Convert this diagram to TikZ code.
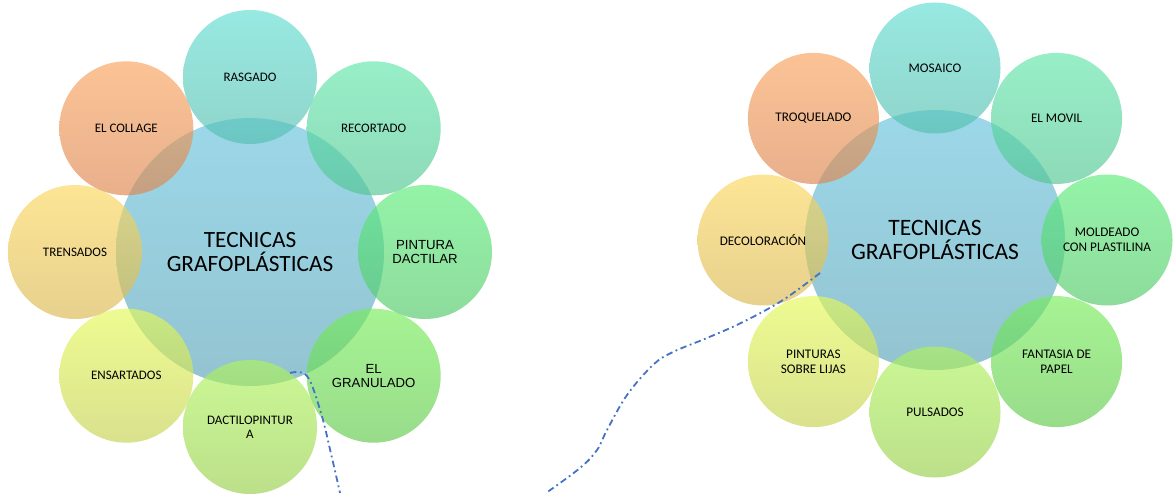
\documentclass[tikz,border=0pt]{standalone}
\usepackage{fontspec}
\setmainfont{Carlito}
\newfontfamily\arialfont{Liberation Sans}
\definecolor{hubT}{RGB}{103,195,221}
\definecolor{hubB}{RGB}{89,163,183}
\definecolor{s1T}{RGB}{95,221,209}\definecolor{s1B}{RGB}{84,190,175}
\definecolor{s2T}{RGB}{95,230,169}\definecolor{s2B}{RGB}{81,197,146}
\definecolor{s3T}{RGB}{90,237,121}\definecolor{s3B}{RGB}{81,200,103}
\definecolor{s4T}{RGB}{118,237,89}\definecolor{s4B}{RGB}{97,201,75}
\definecolor{s5T}{RGB}{175,244,92}\definecolor{s5B}{RGB}{152,207,75}
\definecolor{s6T}{RGB}{229,249,86}\definecolor{s6B}{RGB}{197,209,80}
\definecolor{s7T}{RGB}{252,215,92}\definecolor{s7B}{RGB}{217,184,80}
\definecolor{s8T}{RGB}{249,163,92}\definecolor{s8B}{RGB}{220,133,78}
\definecolor{linkblue}{RGB}{68,114,196}
\begin{document}
\begin{tikzpicture}[x=1pt,y=1pt,
  bubble/.style={circle, inner sep=0pt, fill opacity=0.65, text opacity=1, align=center, text=black},
  hubL/.style={bubble, minimum size=268pt, top color=hubT, bottom color=hubB, font=\fontsize{23.3}{24}\selectfont},
  hubR/.style={bubble, minimum size=260pt, top color=hubT, bottom color=hubB, font=\fontsize{23.5}{24}\selectfont},
  satL/.style 2 args={bubble, minimum size=134pt, top color=#1, bottom color=#2, font=\fontsize{13}{14}\selectfont},
  satR/.style 2 args={bubble, minimum size=131pt, top color=#1, bottom color=#2, font=\fontsize{13.2}{14.5}\selectfont},
  arialtxt/.style={font=\arialfont\fontsize{13.2}{13.8}\selectfont},
  link/.style={draw=linkblue, line width=1.8pt, dash pattern=on 6.5pt off 3.5pt on 1.8pt off 3.5pt}]
\useasboundingbox (0,0) rectangle (1174,493);
% left cluster
\node[hubL] (hubL) at (250,241) {TECNICAS\\GRAFOPLÁSTICAS};
\node[satL={s1T}{s1B}] (rasgado) at (250,416) {RASGADO};
\node[satL={s2T}{s2B}] (recortado) at (373.7,364.7) {RECORTADO};
\node[satL={s3T}{s3B}, arialtxt] (pintura) at (425,241) {PINTURA\\DACTILAR};
\node[satL={s4T}{s4B}, arialtxt] (granulado) at (373.7,117.3) {EL\\GRANULADO};
\node[satL={s5T}{s5B}] (dactilo) at (250,66) {DACTILOPINTUR\\A};
\node[satL={s6T}{s6B}] (ensartados) at (126.3,117.3) {ENSARTADOS};
\node[satL={s7T}{s7B}] (trensados) at (75,241) {TRENSADOS};
\node[satL={s8T}{s8B}] (collage) at (126.3,364.7) {EL COLLAGE};
% right cluster
\node[hubR] (hubR) at (935,253) {TECNICAS\\GRAFOPLÁSTICAS};
\node[satR={s1T}{s1B}] (mosaico) at (935,425) {MOSAICO};
\node[satR={s2T}{s2B}] (movil) at (1056.6,374.6) {EL MOVIL};
\node[satR={s3T}{s3B}] (moldeado) at (1107,253) {MOLDEADO\\CON PLASTILINA};
\node[satR={s4T}{s4B}] (fantasia) at (1056.6,131.4) {FANTASIA DE\\PAPEL};
\node[satR={s5T}{s5B}] (pulsados) at (935,81) {PULSADOS};
\node[satR={s6T}{s6B}] (lijas) at (813.4,131.4) {PINTURAS\\SOBRE LIJAS};
\node[satR={s7T}{s7B}] (decoloracion) at (763,253) {DECOLORACIÓN};
\node[satR={s8T}{s8B}] (troquelado) at (813.4,374.6) {TROQUELADO};
% dash-dot lines
\draw[link] plot[smooth, tension=0.6] coordinates {(290,120) (307,117) (321,80) (332,35) (340,0)};
\draw[link] plot[smooth, tension=0.6] coordinates {(820,220) (783,193) (743,171) (707,155) (673,141) (653,128) (627,98) (607,63) (597,43) (580,25) (546,0)};
\end{tikzpicture}
\end{document}
